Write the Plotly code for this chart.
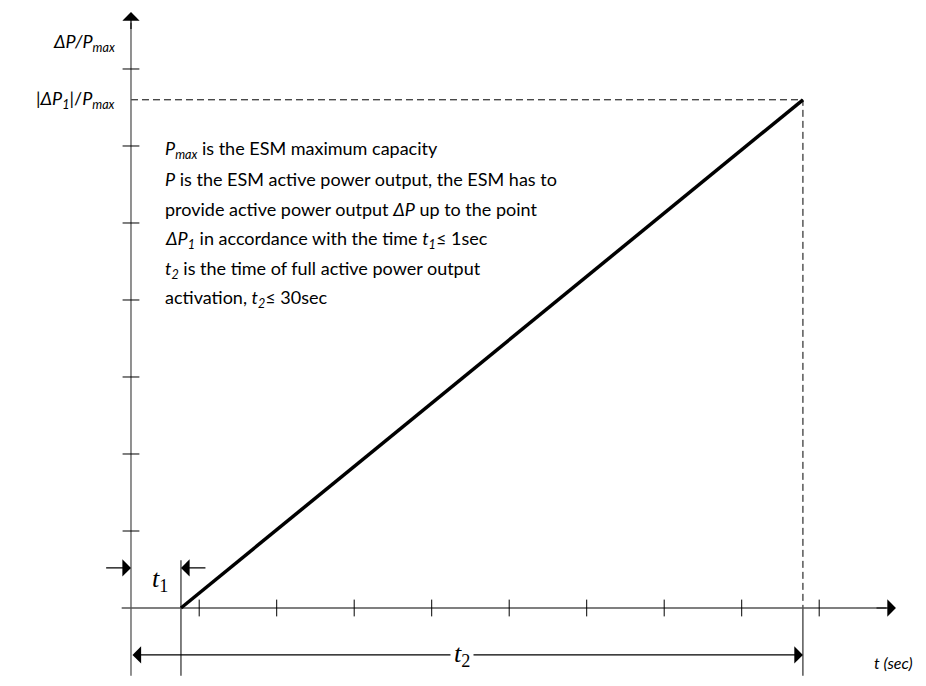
import plotly.graph_objects as go

# schematic ramp of the ESM active power output
ramp_t = [0.645, 8.67]        # t1, t2
ramp_p = [0.0, 6.6]           # 0 -> |dP1|/Pmax
x_ticks = [0.88, 1.88, 2.88, 3.88, 4.88, 5.88, 6.88, 7.88, 8.88]
y_ticks = [1, 2, 3, 4, 5, 6, 7]
notes = [
    "<i>P<sub>max</sub></i> is the ESM maximum capacity",
    "<i>P</i> is the ESM active power output, the ESM has to",
    "provide active power output <i>ΔP</i> up to the point",
    "<i>ΔP<sub>1</sub></i> in accordance with the time <i>t<sub>1</sub></i>≤ 1sec",
    "<i>t<sub>2</sub></i> is the time of full active power output",
    "activation, <i>t<sub>2</sub></i>≤ 30sec",
]
note_y = [5.96, 5.57, 5.18, 4.79, 4.40, 4.02]

t1, t2 = ramp_t
dp1 = ramp_p[1]
axis_col = "#555555"
txt = dict(family="Lato, sans-serif", size=18, color="black")
serif = dict(family="Liberation Serif, serif", size=26, color="black")

fig = go.Figure()

# helper lines
fig.add_trace(go.Scatter(x=[0, t2, t2], y=[dp1, dp1, 0], mode="lines",
                         line=dict(color="black", width=1, dash="7px,4px"), hoverinfo="skip"))
fig.add_trace(go.Scatter(x=[t2, t2], y=[0, -0.88], mode="lines",
                         line=dict(color="black", width=1), hoverinfo="skip"))
fig.add_trace(go.Scatter(x=[t1, t1], y=[0.62, -0.88], mode="lines",
                         line=dict(color="black", width=1), hoverinfo="skip"))
fig.add_trace(go.Scatter(x=[0, 0], y=[-0.88, 7.6], mode="lines",
                         line=dict(color=axis_col, width=1.3), hoverinfo="skip"))
fig.add_trace(go.Scatter(x=[-0.12, 9.75], y=[0, 0], mode="lines",
                         line=dict(color=axis_col, width=1.3), hoverinfo="skip"))

# tick marks crossing the axes
fig.add_trace(go.Scatter(x=x_ticks, y=[0] * len(x_ticks), mode="markers",
                         marker=dict(symbol="line-ns", size=12, line=dict(color="black", width=1)),
                         hoverinfo="skip"))
fig.add_trace(go.Scatter(x=[0] * len(y_ticks), y=y_ticks, mode="markers",
                         marker=dict(symbol="line-ew", size=12, line=dict(color="black", width=1)),
                         hoverinfo="skip"))

# the ramp
fig.add_trace(go.Scatter(x=ramp_t, y=ramp_p, mode="lines",
                         line=dict(color="black", width=3.5), hoverinfo="skip"))

arrow = dict(showarrow=True, axref="x", ayref="y", arrowhead=1, arrowsize=2.4,
             arrowwidth=1.2, arrowcolor="black", text="")
ann = [
    dict(x=0, y=7.74, ax=0, ay=7.5, **arrow),
    dict(x=9.87, y=0, ax=9.6, ay=0, **arrow),
    dict(x=0, y=0.52, ax=-0.34, ay=0.52, **arrow),
    dict(x=t1, y=0.52, ax=0.98, ay=0.52, **arrow),
    dict(x=t2, y=-0.61, ax=0, ay=-0.61, arrowside="end+start", startarrowhead=1,
         startarrowsize=2.4, **arrow),
]
fig.update_layout(annotations=ann)

fig.add_annotation(x=4.27, y=-0.61, text="<i>t</i><sub>2</sub>", showarrow=False,
                   font=serif, bgcolor="white", borderpad=3)
fig.add_annotation(x=0.37, y=0.36, text="<i>t</i><sub>1</sub>", showarrow=False, font=serif)
fig.add_annotation(x=10.12, y=-0.71, text="<i>t (sec)</i>", showarrow=False,
                   xanchor="right", font=dict(family="Lato, sans-serif", size=16, color="black"))
fig.add_annotation(x=-0.18, y=7.35, text="<i>ΔP/P<sub>max</sub></i>", showarrow=False,
                   xanchor="right", font=txt)
fig.add_annotation(x=-0.18, y=dp1, text="|<i>ΔP<sub>1</sub></i>|/<i>P<sub>max</sub></i>",
                   showarrow=False, xanchor="right", font=txt)
for s, yy in zip(notes, note_y):
    fig.add_annotation(x=0.41, y=yy, text=s, showarrow=False, xanchor="left",
                       yanchor="middle", align="left", font=txt)

# the page has an 8px body margin, so the figure is 16px smaller than the window
fig.update_layout(
    width=918, height=678, margin=dict(l=0, r=0, t=0, b=0),
    paper_bgcolor="white", plot_bgcolor="white", showlegend=False,
    xaxis=dict(range=[-1.587, 10.258], visible=False, fixedrange=True),
    yaxis=dict(range=[-1.013, 7.792], visible=False, fixedrange=True),
)
fig.write_html("out.html")
